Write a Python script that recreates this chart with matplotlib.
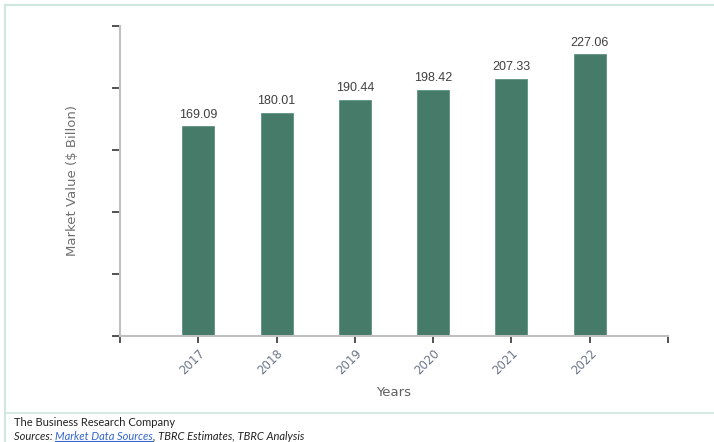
import matplotlib
matplotlib.use("Agg")
import matplotlib.pyplot as plt
from matplotlib.lines import Line2D

# data
years = ["2017", "2018", "2019", "2020", "2021", "2022"]
values = [169.09, 180.01, 190.44, 198.42, 207.33, 227.06]

bar_color = "#467b69"
border_color = "#cfe8df"

fig = plt.figure(figsize=(7.14, 4.42), dpi=100)
ax = fig.add_axes([120 / 714, 1 - 336 / 442, 548 / 714, 310 / 442])

pos = list(range(1, len(years) + 1))
ax.bar(pos, values, width=0.41, color=bar_color, edgecolor="#5e9481", linewidth=0.6, zorder=2)

for x, v in zip(pos, values):
    ax.annotate(f"{v:.2f}", (x, v), xytext=(0, 4), textcoords="offset points",
                ha="center", va="bottom", fontsize=9, color="#404040",
                family=["Liberation Sans Narrow", "Liberation Sans"])

ax.set_xlim(0, 7)
ax.set_ylim(0, 250)
ax.set_yticks([0, 50, 100, 150, 200, 250])
ax.set_yticklabels([])
ax.set_xticks([0] + pos + [7])
ax.set_xticklabels([""] + years + [""], rotation=45, ha="right", va="top",
                   rotation_mode="anchor", fontsize=8.5, color="#6b7488")
ax.tick_params(axis="y", length=6, width=1.2, color="#333333", direction="out")
ax.tick_params(axis="x", length=5, width=1.2, color="#333333", direction="out", pad=3)

for s in ["top", "right"]:
    ax.spines[s].set_visible(False)
for s in ["left", "bottom"]:
    ax.spines[s].set_color("#c0c0c0")
    ax.spines[s].set_linewidth(1.5)

ax.set_ylabel("Market Value ($ Billon)", fontsize=9.5, color="#707070", labelpad=20)
ax.set_xlabel("Years", fontsize=9.5, color="#606060", labelpad=6)

# frame lines
fig.add_artist(Line2D([5 / 714, 5 / 714], [0, 1 - 5 / 442], color=border_color, lw=1.5))
fig.add_artist(Line2D([5 / 714, 1], [1 - 5 / 442, 1 - 5 / 442], color=border_color, lw=1.5))
fig.add_artist(Line2D([5 / 714, 1], [1 - 413 / 442, 1 - 413 / 442], color=border_color, lw=1.2))

# footer
foot = dict(fontsize=8, family=["Lato", "DejaVu Sans"])
fig.text(14 / 714, 1 - 422 / 442, "The Business Research Company", va="center", color="#222222", **foot)

fig.canvas.draw()
r = fig.canvas.get_renderer()
x0 = 14 / 714
yy = 1 - 436 / 442
parts = [("Sources: ", "#222222", False), ("Market Data Sources", "#3366cc", True),
         (", TBRC Estimates, TBRC Analysis", "#222222", False)]
for txt, col, link in parts:
    t = fig.text(x0, yy, txt, va="center", color=col, style="italic", **foot)
    bb = t.get_window_extent(r)
    if link:
        uy = (bb.y0 + 1) / fig.bbox.height
        fig.add_artist(Line2D([bb.x0 / fig.bbox.width, bb.x1 / fig.bbox.width], [uy, uy], color=col, lw=0.8))
    x0 = bb.x1 / fig.bbox.width

fig.savefig("out.png", dpi=100)
